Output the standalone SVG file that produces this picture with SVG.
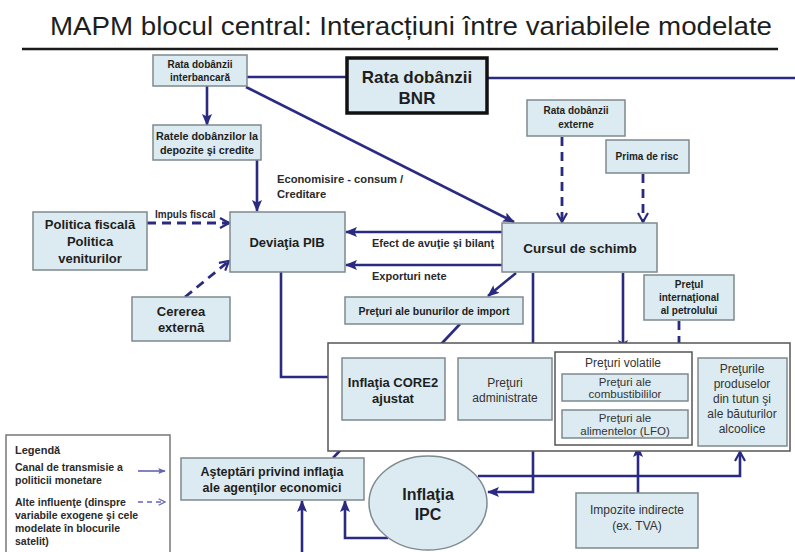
<svg xmlns="http://www.w3.org/2000/svg" width="795" height="552" viewBox="0 0 795 552">
<defs>
<style>
.bx{fill:#dcebf1;stroke:#7d8a8f;stroke-width:1.5}
.wb{fill:#ffffff;stroke:#555;stroke-width:1.5}
.t{font-family:"Liberation Sans",Arial,sans-serif;fill:#1e1e1e;text-anchor:middle}
.b{font-weight:bold}
.n{fill:#333}
.l{font-family:"Liberation Sans",Arial,sans-serif;fill:#2a2a2a;font-weight:bold}
.c{fill:none;stroke:#2b2a82;stroke-width:2.6}
.d{fill:none;stroke:#2b2a82;stroke-width:2.8;stroke-dasharray:9 6}
.lg{fill:none;stroke:#6464b4;stroke-width:1.6}
</style>
<marker id="af" viewBox="0 0 12 10" refX="11" refY="5" markerWidth="12" markerHeight="10" markerUnits="userSpaceOnUse" orient="auto">
<path d="M0,0 L12,5 L0,10 L2.5,5 z" fill="#2b2a82"/>
</marker>
<marker id="ao" viewBox="0 0 12 12" refX="10" refY="6" markerWidth="12" markerHeight="12" markerUnits="userSpaceOnUse" orient="auto">
<path d="M1,1 L10,6 L1,11" fill="none" stroke="#2b2a82" stroke-width="2.2"/>
</marker>
<marker id="lf" viewBox="0 0 10 8" refX="9" refY="4" markerWidth="8" markerHeight="6" markerUnits="userSpaceOnUse" orient="auto">
<path d="M0,0 L10,4 L0,8 L2,4 z" fill="#6464b4"/>
</marker>
<marker id="lo" viewBox="0 0 10 10" refX="9" refY="5" markerWidth="8" markerHeight="8" markerUnits="userSpaceOnUse" orient="auto">
<path d="M1,1 L9,5 L1,9" fill="none" stroke="#6464b4" stroke-width="1.6"/>
</marker>
</defs>
<rect width="795" height="552" fill="#ffffff"/>
<text x="411" y="35" class="t" font-size="26" textLength="722" lengthAdjust="spacingAndGlyphs">MAPM blocul central: Interacțiuni între variabilele modelate</text>
<line x1="22" y1="49" x2="778" y2="49" stroke="#1a1a1a" stroke-width="2.5"/>

<g id="connectors">
<line class="c" x1="247" y1="77" x2="347" y2="77" stroke-width="2"/>
<line class="c" x1="487" y1="78" x2="795" y2="78" stroke-width="2"/>
<line class="c" x1="207" y1="86" x2="207" y2="125" marker-end="url(#af)"/>
<line class="c" x1="257" y1="160" x2="257" y2="211" marker-end="url(#af)"/>
<line class="c" x1="246" y1="87" x2="514" y2="222" marker-end="url(#af)"/>
<line class="d" x1="562" y1="137" x2="562" y2="222" marker-end="url(#ao)"/>
<line class="d" x1="643" y1="174" x2="643" y2="222" marker-end="url(#ao)"/>
<line class="c" x1="502" y1="232" x2="346" y2="232" marker-end="url(#af)"/>
<line class="c" x1="502" y1="265" x2="346" y2="265" marker-end="url(#af)"/>
<line class="c" x1="516" y1="273" x2="488" y2="296" marker-end="url(#af)"/>
<line class="c" x1="460" y1="324" x2="429" y2="357" marker-end="url(#af)"/>
<line class="c" x1="533" y1="273" x2="533" y2="357" marker-end="url(#af)"/>
<line class="c" x1="623" y1="273" x2="623" y2="351" marker-end="url(#af)"/>
<line class="d" x1="679" y1="321" x2="679" y2="368" marker-end="url(#ao)"/>
<line class="d" x1="147" y1="223" x2="229" y2="223" marker-end="url(#ao)"/>
<line class="d" x1="185" y1="297" x2="229" y2="261" marker-end="url(#ao)"/>
<path class="c" d="M281,272 V377 H341" marker-end="url(#af)"/>
<line class="c" x1="333" y1="458" x2="368" y2="421" marker-end="url(#af)"/>
<line class="c" x1="302" y1="552" x2="302" y2="501" marker-end="url(#af)"/>
<path class="c" d="M388,538 H345 V501" marker-end="url(#af)"/>
<path class="c" d="M533,451 V492 H488" marker-end="url(#af)"/>
<path class="c" d="M478,476 H740 V452" marker-end="url(#ao)"/>
<line class="c" x1="638" y1="493" x2="638" y2="446" marker-end="url(#af)"/>
<text x="277" y="183" class="l" font-size="11.2">Economisire - consum /</text>
<text x="277" y="198" class="l" font-size="11.2">Creditare</text>
<text x="155" y="218" class="l" font-size="10">Impuls fiscal</text>
<text x="372" y="247" class="l" font-size="11">Efect de avuţie şi bilanţ</text>
<text x="372" y="280" class="l" font-size="11">Exporturi nete</text>
</g>

<g id="interbank"><rect class="bx" x="153" y="55" width="94" height="31"/>
<text class="t b" font-size="10" x="200" y="68">Rata dobânzii</text>
<text class="t b" font-size="10" x="200" y="81">interbancară</text></g>

<g id="bnr"><rect x="347" y="58" width="140" height="55" fill="#dcebf1" stroke="#111" stroke-width="3.5"/>
<text class="t b" font-size="17" x="417" y="83">Rata dobânzii</text>
<text class="t b" font-size="17" x="417" y="104">BNR</text></g>

<g id="ratele"><rect class="bx" x="153" y="125" width="108" height="35"/>
<text class="t b" font-size="10.8" x="207" y="140">Ratele dobânzilor la</text>
<text class="t b" font-size="10.8" x="207" y="154">depozite şi credite</text></g>

<g id="externe"><rect class="bx" x="527" y="100" width="98" height="36"/>
<text class="t b" font-size="10" x="576" y="114">Rata dobânzii</text>
<text class="t b" font-size="10" x="576" y="128">externe</text></g>

<g id="prima"><rect class="bx" x="606" y="140" width="83" height="33"/>
<text class="t b" font-size="10" x="647" y="160">Prima de risc</text></g>

<g id="politica"><rect class="bx" x="33" y="212" width="114" height="58"/>
<text class="t b" font-size="13" x="90" y="229">Politica fiscală</text>
<text class="t b" font-size="13" x="90" y="246">Politica</text>
<text class="t b" font-size="13" x="90" y="263">veniturilor</text></g>

<g id="deviatia"><rect class="bx" x="230" y="212" width="115" height="60"/>
<text class="t b" font-size="13" x="287" y="247">Deviaţia PIB</text></g>

<g id="cursul"><rect class="bx" x="502" y="223" width="155" height="49"/>
<text class="t b" font-size="13.5" x="580" y="253">Cursul de schimb</text></g>

<g id="cererea"><rect class="bx" x="132" y="297" width="98" height="44"/>
<text class="t b" font-size="13" x="181" y="316">Cererea</text>
<text class="t b" font-size="13" x="181" y="332">externă</text></g>

<g id="import"><rect class="bx" x="345" y="297" width="178" height="27"/>
<text class="t b" font-size="10.5" x="434" y="315">Preţuri ale bunurilor de import</text></g>

<g id="petrol"><rect class="bx" x="644" y="275" width="90" height="45"/>
<text class="t b" font-size="10" x="689" y="288">Preţul</text>
<text class="t b" font-size="10" x="689" y="301">internaţional</text>
<text class="t b" font-size="10" x="689" y="314">al petrolului</text></g>

<g id="container"><rect class="wb" x="328" y="343" width="462" height="108"/></g>

<g id="core2"><rect class="bx" x="342" y="358" width="103" height="62"/>
<text class="t b" font-size="13" x="393" y="387">Inflaţia CORE2</text>
<text class="t b" font-size="13" x="393" y="403">ajustat</text></g>

<g id="admin"><rect class="bx" x="458" y="358" width="94" height="62"/>
<text class="t n" font-size="12" x="505" y="387">Preţuri</text>
<text class="t n" font-size="12" x="505" y="402">administrate</text></g>

<g id="volatile"><rect class="wb" x="555" y="352" width="137" height="93"/>
<text class="t n" font-size="12" x="623" y="367">Preţuri volatile</text></g>

<g id="combustibil"><rect class="bx" x="562" y="374" width="126" height="27"/>
<text class="t n" font-size="11.5" x="625" y="386">Preţuri ale</text>
<text class="t n" font-size="11.5" x="625" y="398">combustibililor</text></g>

<g id="alimente"><rect class="bx" x="562" y="410" width="126" height="28"/>
<text class="t n" font-size="11.5" x="625" y="422">Preţuri ale</text>
<text class="t n" font-size="11.5" x="625" y="435">alimentelor (LFO)</text></g>

<g id="tutun"><rect class="bx" x="698" y="358" width="89" height="88"/>
<text class="t n" font-size="12" x="742" y="373">Preţurile</text>
<text class="t n" font-size="12" x="742" y="388">produselor</text>
<text class="t n" font-size="12" x="742" y="403">din tutun şi</text>
<text class="t n" font-size="12" x="742" y="418">ale băuturilor</text>
<text class="t n" font-size="12" x="742" y="433">alcoolice</text></g>

<g id="asteptari"><rect class="bx" x="181" y="458" width="183" height="42"/>
<text class="t b" font-size="12.5" x="272" y="476">Aşteptări privind inflaţia</text>
<text class="t b" font-size="12.5" x="272" y="492">ale agenţilor economici</text></g>

<g id="ipc"><ellipse cx="428" cy="503" rx="59" ry="47" fill="#dcebf1" stroke="#7d8a8f" stroke-width="1.5"/>
<text class="t b" font-size="16" x="428" y="500">Inflaţia</text>
<text class="t b" font-size="16" x="428" y="520">IPC</text></g>

<g id="impozite"><rect class="bx" x="576" y="493" width="122" height="55"/>
<text class="t n" font-size="12" x="637" y="514">Impozite indirecte</text>
<text class="t n" font-size="12" x="637" y="530">(ex. TVA)</text></g>

<g id="legend"><rect x="6" y="435" width="164" height="125" fill="#ffffff" stroke="#777" stroke-width="1.5"/>
<text class="l" font-size="11" x="15" y="454">Legendă</text>
<text class="l" font-size="10.5" x="15" y="471">Canal de transmisie a</text>
<text class="l" font-size="10.5" x="15" y="484">politicii monetare</text>
<text class="l" font-size="10.5" x="15" y="506">Alte influenţe (dinspre</text>
<text class="l" font-size="10.5" x="15" y="519">variabile exogene şi cele</text>
<text class="l" font-size="10.5" x="15" y="532">modelate în blocurile</text>
<text class="l" font-size="10.5" x="15" y="545">satelit)</text>
<line class="lg" x1="138" y1="471" x2="165" y2="471" marker-end="url(#lf)"/>
<line class="lg" x1="138" y1="502" x2="165" y2="502" stroke-dasharray="5 4" marker-end="url(#lo)"/></g>
</svg>
